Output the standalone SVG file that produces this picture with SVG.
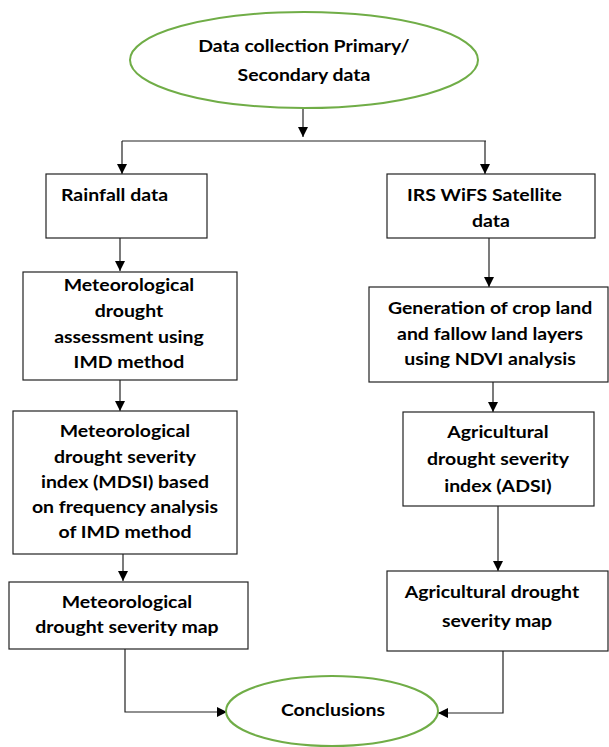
<svg xmlns="http://www.w3.org/2000/svg" width="609" height="747" viewBox="0 0 609 747">
<defs>
<marker id="ah" markerUnits="userSpaceOnUse" markerWidth="10" markerHeight="11" refX="10" refY="5" orient="auto">
<path d="M0,0 L10,5 L0,10 Z" fill="#000"/>
</marker>
<style>
.box{fill:#fff;stroke:#222;stroke-width:1.2}
.ell{fill:#fff;stroke:#70AD47;stroke-width:2}
.t{font-family:Lato,"Liberation Sans",sans-serif;font-weight:bold;font-size:16.5px;fill:#000}
.c{text-anchor:middle}
.ln{fill:none;stroke:#222;stroke-width:1.2}
</style>
</defs>
<rect width="609" height="747" fill="#fff"/>
<g id="connectors">
<path class="ln" d="M303,108 V137" marker-end="url(#ah)"/>
<path class="ln" d="M122,141 H486"/>
<path class="ln" d="M122,141 V174" marker-end="url(#ah)"/>
<path class="ln" d="M485,141 V174" marker-end="url(#ah)"/>
<path class="ln" d="M120,238 V271" marker-end="url(#ah)"/>
<path class="ln" d="M120,380 V411" marker-end="url(#ah)"/>
<path class="ln" d="M123,554 V581" marker-end="url(#ah)"/>
<path class="ln" d="M489,238 V287" marker-end="url(#ah)"/>
<path class="ln" d="M493,382 V412" marker-end="url(#ah)"/>
<path class="ln" d="M498,506 V571" marker-end="url(#ah)"/>
<path class="ln" d="M125,649 V712 H227" marker-end="url(#ah)"/>
<path class="ln" d="M503,651 V713 H438" marker-end="url(#ah)"/>
</g>
<g id="start">
<ellipse class="ell" cx="304" cy="60" rx="174" ry="48"/>
<g transform="scale(1.18,1)">
<text class="t c" x="257.6" y="52">Data collection Primary/</text>
<text class="t c" x="257.6" y="81">Secondary data</text>
</g>
</g>
<g id="rainfall">
<rect class="box" x="46" y="174" width="161" height="64"/>
<g transform="scale(1.18,1)">
<text class="t" x="51.7" y="201">Rainfall data</text>
</g>
</g>
<g id="irs">
<rect class="box" x="387" y="174" width="208" height="64"/>
<g transform="scale(1.18,1)">
<text class="t" x="344.9" y="201">IRS WiFS Satellite</text>
<text class="t" x="400" y="227">data</text>
</g>
</g>
<g id="met-assess">
<rect class="box" x="23" y="272" width="214" height="108"/>
<g transform="scale(1.18,1)">
<text class="t c" x="109.3" y="291">Meteorological</text>
<text class="t c" x="109.3" y="317">drought</text>
<text class="t c" x="109.3" y="343">assessment using</text>
<text class="t c" x="109.3" y="368">IMD method</text>
</g>
</g>
<g id="crop-gen">
<rect class="box" x="369" y="287" width="239" height="95"/>
<g transform="scale(1.18,1)">
<text class="t c" x="415.3" y="314">Generation of crop land</text>
<text class="t c" x="415.3" y="340">and fallow land layers</text>
<text class="t c" x="415.3" y="365">using NDVI analysis</text>
</g>
</g>
<g id="mdsi">
<rect class="box" x="13" y="411" width="224" height="143"/>
<g transform="scale(1.18,1)">
<text class="t c" x="105.9" y="437">Meteorological</text>
<text class="t c" x="105.9" y="463">drought severity</text>
<text class="t c" x="105.9" y="488">index (MDSI) based</text>
<text class="t c" x="105.9" y="513">on frequency analysis</text>
<text class="t c" x="105.9" y="538">of IMD method</text>
</g>
</g>
<g id="adsi">
<rect class="box" x="403" y="412" width="191" height="94"/>
<g transform="scale(1.18,1)">
<text class="t c" x="422" y="438">Agricultural</text>
<text class="t c" x="422" y="465">drought severity</text>
<text class="t c" x="422" y="492">index (ADSI)</text>
</g>
</g>
<g id="met-map">
<rect class="box" x="9" y="582" width="239" height="67"/>
<g transform="scale(1.18,1)">
<text class="t c" x="107.6" y="608">Meteorological</text>
<text class="t c" x="107.6" y="633">drought severity map</text>
</g>
</g>
<g id="agri-map">
<rect class="box" x="387" y="571" width="221" height="80"/>
<g transform="scale(1.18,1)">
<text class="t c" x="416.9" y="598">Agricultural drought</text>
<text class="t c" x="421.2" y="627">severity map</text>
</g>
</g>
<g id="conclusions">
<ellipse class="ell" cx="332" cy="711" rx="106" ry="35"/>
<g transform="scale(1.18,1)">
<text class="t c" x="282.2" y="716">Conclusions</text>
</g>
</g>
</svg>
